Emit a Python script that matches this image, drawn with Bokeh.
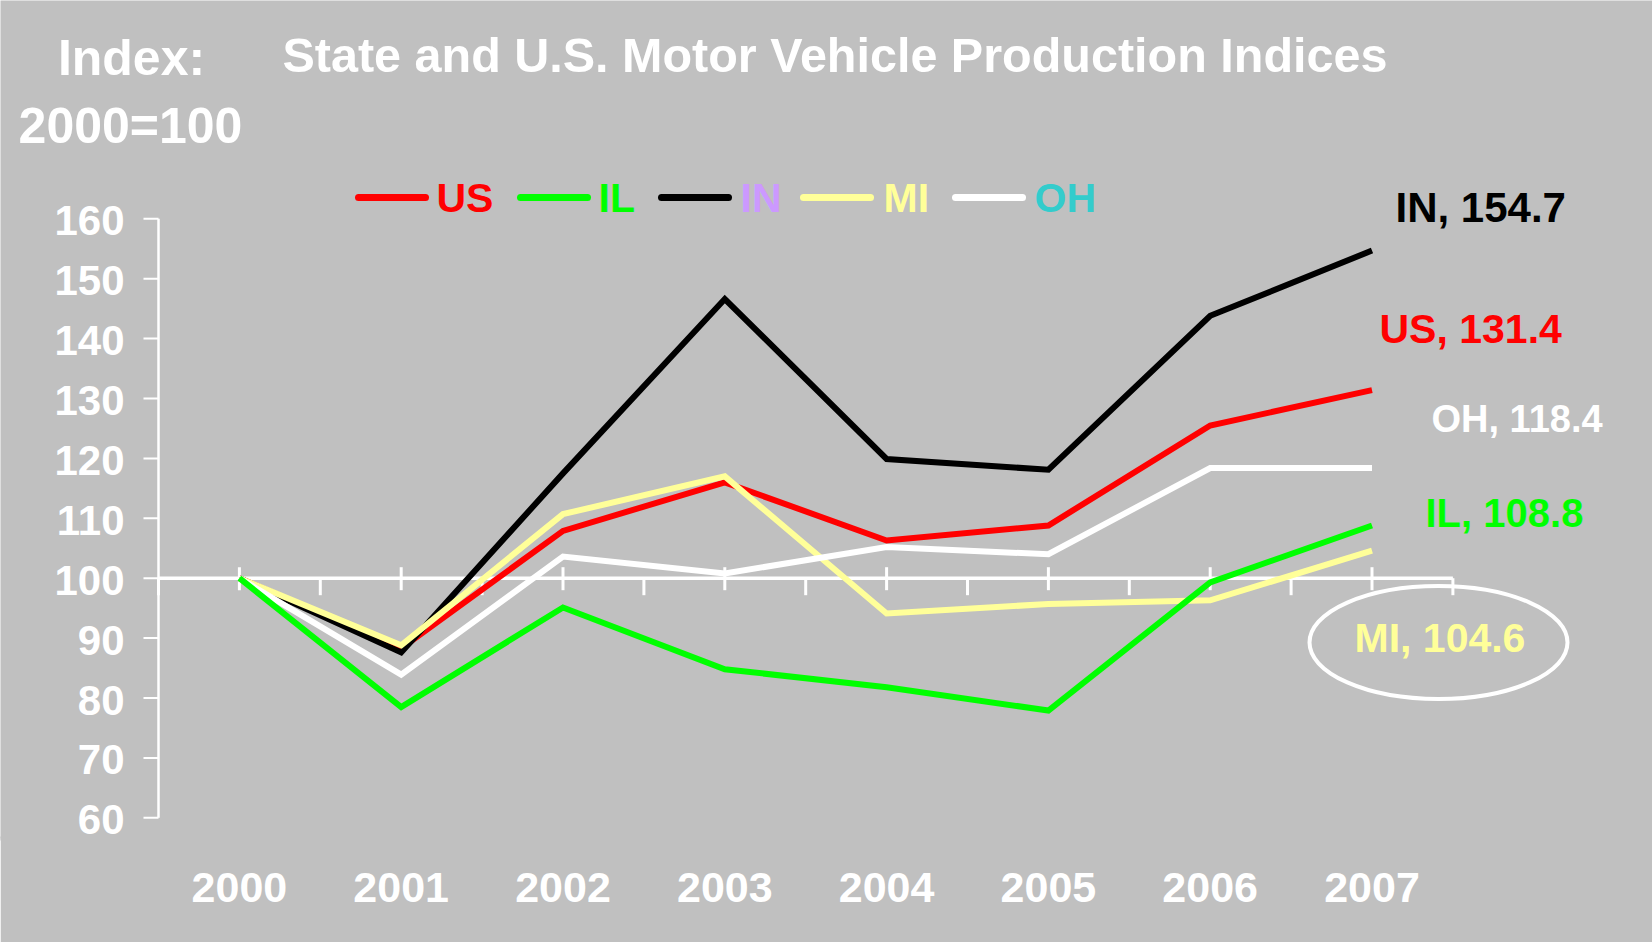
from bokeh.plotting import figure
from bokeh.models import Range1d, FixedTicker, Label
from bokeh.core.properties import value
from bokeh.embed import file_html
from bokeh.resources import INLINE

# ---------------- data ----------------
years = ["2000", "2001", "2002", "2003", "2004", "2005", "2006", "2007"]
us_vals = [100, 88.3, 107.9, 116.0, 106.3, 108.8, 125.5, 131.4]
il_vals = [100, 78.5, 95.1, 84.8, 81.8, 77.9, 99.3, 108.8]
in_vals = [100, 87.6, 117.5, 146.6, 119.9, 118.1, 143.8, 154.7]
mi_vals = [100, 88.8, 110.7, 117.0, 94.1, 95.7, 96.3, 104.6]
oh_vals = [100, 83.9, 103.6, 100.8, 105.2, 104.0, 118.4, 118.4]
series_names = ["US", "IL", "IN", "MI", "OH"]
y_ticks = [60, 70, 80, 90, 100, 110, 120, 130, 140, 150, 160]
title_text = "State and U.S. Motor Vehicle Production Indices"
ytitle_1 = "Index:"
ytitle_2 = "2000=100"

# ---------------- styles ----------------
FONT = "Liberation Sans"
BG = "#C0C0C0"
line_colors = {"US": "#FF0000", "IL": "#00FF00", "IN": "#000000", "MI": "#FFFF99", "OH": "#FFFFFF"}
legend_text_colors = {"US": "#FF0000", "IL": "#00FF00", "IN": "#CC99FF", "MI": "#FFFF99", "OH": "#33CCCC"}
end_label_colors = {"US": "#FF0000", "IL": "#00FF00", "IN": "#000000", "MI": "#FFFF99", "OH": "#FFFFFF"}

W, H = 1652, 942
BOTTOM = 104
AXIS_X = 158      # pixel column of the value axis
PX_X = 161.8      # pixels per category
PX_Y = 5.99       # pixels per index point
Y100 = 577.7      # pixel row of index 100
frame_h = H - BOTTOM
x_start = -0.5 - AXIS_X / PX_X
x_end = x_start + W / PX_X
y_end = 100 + Y100 / PX_Y
y_start = y_end - frame_h / PX_Y
BASE_FIX = 0.37   # label baseline correction (em)

def dx(px):  # pixel -> data x
    return x_start + px / PX_X
def dy(py):  # pixel -> data y
    return y_end - py / PX_Y

p = figure(width=W, height=H, output_backend="svg", toolbar_location=None,
           x_range=Range1d(x_start, x_end), y_range=Range1d(y_start, y_end),
           min_border_left=0, min_border_bottom=BOTTOM, min_border_top=0, min_border_right=0,
           background_fill_color=BG, border_fill_color=BG, outline_line_color=None)
p.grid.visible = False
p.yaxis.visible = False

# x axis (year labels only, at the bottom)
xa = p.xaxis[0]
xa.ticker = FixedTicker(ticks=list(range(len(years))))
xa.major_label_overrides = {i: y for i, y in enumerate(years)}
xa.axis_line_color = BG          # hides the seam between frame and bottom border
xa.axis_line_width = 4
xa.major_tick_line_color = None
xa.minor_tick_line_color = None
xa.major_tick_out = 0
xa.major_tick_in = 0
xa.major_label_text_font = FONT
xa.major_label_text_font_style = "bold"
xa.major_label_text_font_size = "43px"
xa.major_label_text_color = "white"
xa.major_label_standoff = 34

# value axis (line, outward ticks, labels)
n = len(years)
ax0 = -0.5
ymin, ymax = min(y_ticks), max(y_ticks)
p.line([ax0, ax0], [ymin, ymax], line_color="white", line_width=2.5)
nt = len(y_ticks)
p.segment(x0=[ax0] * nt, y0=y_ticks, x1=[ax0 - 15 / PX_X] * nt, y1=y_ticks,
          line_color="white", line_width=2)
p.text(x=[ax0 - 34 / PX_X] * nt, y=y_ticks, text=[str(t) for t in y_ticks],
       text_align="right", text_baseline="middle", text_font=value(FONT),
       text_font_style="bold", text_font_size="42px", text_color="white", y_offset=2)

# horizontal category axis line crossing at 100
p.line([ax0, n - 0.5], [100, 100], line_color="white", line_width=3.5)
cats = list(range(n))
p.segment(x0=cats, y0=[100 + 11 / PX_Y] * n, x1=cats, y1=[100 - 12 / PX_Y] * n,
          line_color="white", line_width=3)
bnds = [i - 0.5 for i in range(n + 1)]
p.segment(x0=bnds, y0=[100] * (n + 1), x1=bnds, y1=[100 - 17 / PX_Y] * (n + 1),
          line_color="white", line_width=3)

# data lines (drawing order as in the reference)
data = {"US": us_vals, "IL": il_vals, "IN": in_vals, "MI": mi_vals, "OH": oh_vals}
for name in ["US", "IN", "MI", "OH", "IL"]:
    p.line(cats, data[name], line_color=line_colors[name], line_width=6, line_join="miter")

def add_label(text, px, py, fs, color, align="left"):
    lab = Label(x=dx(px), y=dy(py - BASE_FIX * fs), text=text, text_font=FONT,
                text_font_style="bold", text_font_size=f"{fs}px", text_color=color,
                text_baseline="alphabetic", text_align=align)
    p.add_layout(lab)

# legend
leg_line_x = {"US": 358, "IL": 520, "IN": 661, "MI": 803, "OH": 955}
leg_text_x = {"US": 436, "IL": 598, "IN": 740, "MI": 883, "OH": 1034}
for name in series_names:
    x0 = leg_line_x[name]
    p.line([dx(x0), dx(x0 + 67)], [dy(197), dy(197)], line_color=line_colors[name],
           line_width=7, line_cap="round")
    add_label(name, leg_text_x[name], 213, 41, legend_text_colors[name])

# end labels
end_pos = {"IN": (1395, 223, 42), "US": (1379, 344, 41), "OH": (1431, 433, 38),
           "IL": (1425, 527, 40), "MI": (1354, 653, 41)}
for name in series_names:
    px, py, fs = end_pos[name]
    add_label(f"{name}, {data[name][-1]:.1f}", px, py, fs, end_label_colors[name])

# ellipse around the MI label
p.ellipse(x=[dx(1438)], y=[dy(642)], width=258, height=113, width_units="screen",
          height_units="screen", fill_color=None, line_color="white", line_width=4)

# titles
add_label(title_text, 282, 72, 48.5, "white")
add_label(ytitle_1, 131, 76, 50, "white", align="center")
add_label(ytitle_2, 130, 144, 50, "white", align="center")

open("out.html", "w").write(file_html(p, INLINE))
